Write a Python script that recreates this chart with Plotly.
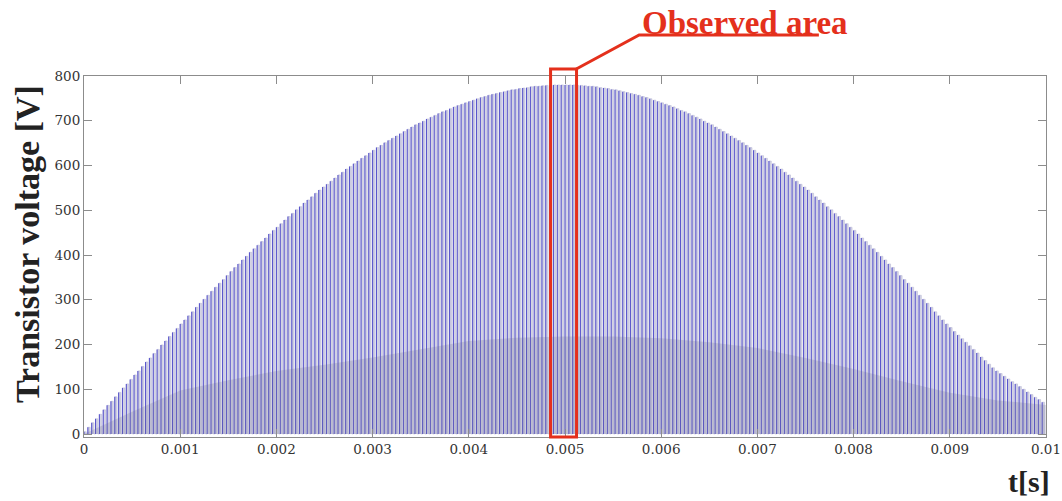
import plotly.graph_objects as go

# ---- data ----
T_START = 0.0
T_END = 0.01
# peak voltage of each switching pulse (V), left to right
pulse_peaks = [
    5, 15, 25, 34, 44, 54, 64, 73, 83, 93,
    103, 112, 122, 132, 141, 151, 161, 170, 180, 189,
    199, 208, 218, 227, 236, 246, 255, 264, 273, 283,
    292, 301, 310, 319, 328, 337, 345, 354, 363, 372,
    380, 389, 397, 406, 414, 422, 430, 438, 447, 455,
    462, 470, 478, 486, 493, 501, 508, 516, 523, 530,
    538, 545, 552, 558, 565, 572, 579, 585, 592, 598,
    604, 610, 616, 622, 628, 634, 640, 645, 651, 656,
    661, 666, 671, 676, 681, 686, 691, 695, 699, 704,
    708, 712, 716, 720, 723, 727, 731, 734, 737, 740,
    743, 746, 749, 752, 754, 757, 759, 761, 763, 765,
    767, 769, 770, 772, 773, 774, 776, 777, 777, 778,
    779, 779, 780, 780, 780,
    780, 780, 780, 779, 779,
    778, 777, 777, 776, 774, 773, 772, 770, 769, 767,
    765, 763, 761, 759, 757, 754, 752, 749, 746, 743,
    740, 737, 734, 731, 727, 723, 720, 716, 712, 708,
    704, 699, 695, 691, 686, 681, 676, 671, 666, 661,
    656, 651, 645, 640, 634, 628, 622, 616, 610, 604,
    598, 592, 585, 579, 572, 565, 558, 552, 545, 538,
    530, 523, 516, 508, 501, 493, 486, 478, 470, 462,
    455, 447, 438, 430, 422, 414, 406, 397, 389, 380,
    372, 363, 354, 345, 337, 328, 319, 310, 301, 292,
    283, 273, 264, 255, 246,
    238, 229, 221, 213, 205, 197, 189, 181, 172, 164, 156, 148, 141,
    135, 129, 123, 117, 112, 106, 100, 94, 88, 82, 77, 71,
]
PULSE_DUTY = 0.6

# lower (ringing) band level read every 0.5 ms
band_t = [0.0, 0.0005, 0.001, 0.0015, 0.002, 0.0025, 0.003, 0.0035, 0.004, 0.0045,
          0.005, 0.0055, 0.006, 0.0065, 0.007, 0.0075, 0.008, 0.0085, 0.009, 0.0095, 0.01]
band_v = [0, 50, 97, 120, 141, 155, 171, 190, 208, 215,
          218, 218, 214, 205, 192, 170, 145, 118, 92, 75, 65]

x_tick_vals = [0, 0.001, 0.002, 0.003, 0.004, 0.005, 0.006, 0.007, 0.008, 0.009, 0.01]
x_tick_text = ["0", "0.001", "0.002", "0.003", "0.004", "0.005", "0.006", "0.007", "0.008", "0.009", "0.01"]
y_tick_vals = [0, 100, 200, 300, 400, 500, 600, 700, 800]

observed_window = [0.00485, 0.00512]

# ---- build pulse polyline ----
n = len(pulse_peaks)
period = (T_END - T_START) / n
px, py = [], []
rise_x, rise_y = [], []
for k, pk in enumerate(pulse_peaks):
    t0 = T_START + k * period
    t1 = t0 + PULSE_DUTY * period
    px += [t0, t0, t1, t1]
    py += [0, pk, pk, 0]
    rise_x += [t0, t0, None]
    rise_y += [0, pk, None]

fig = go.Figure()
fig.add_trace(go.Scatter(
    x=px, y=py, mode="lines", fill="tozeroy",
    fillcolor="rgb(212,212,228)", line=dict(color="rgb(188,188,214)", width=0.6),
    hoverinfo="skip", showlegend=False))
fig.add_trace(go.Scatter(
    x=rise_x, y=rise_y, mode="lines",
    line=dict(color="rgb(90,86,204)", width=1.1),
    hoverinfo="skip", showlegend=False))
fig.add_trace(go.Scatter(
    x=band_t, y=band_v, mode="lines", fill="tozeroy",
    fillcolor="rgba(100,100,135,0.2)", line=dict(width=0),
    hoverinfo="skip", showlegend=False))

serif = "Liberation Serif, Times New Roman, serif"
tickserif = "DejaVu Serif, serif"
red = "rgb(228,48,28)"

axis_common = dict(
    showline=True, linecolor="#8c8c8c", linewidth=1, mirror="allticks",
    ticks="inside", ticklen=8, tickcolor="#8c8c8c", tickwidth=1,
    showgrid=False, zeroline=False, automargin=False,
    ticklabeloverflow="allow",
    tickfont=dict(family=tickserif, size=13.5, color="#333333"),
)

fig.update_layout(
    width=1062, height=501,
    margin=dict(l=84, r=16, t=76, b=64, autoexpand=False),
    paper_bgcolor="white", plot_bgcolor="white",
    xaxis=dict(range=[T_START, T_END], tickvals=x_tick_vals, ticktext=x_tick_text, **axis_common),
    yaxis=dict(range=[-6.7, 800], tickvals=y_tick_vals, **axis_common),
    shapes=[
        dict(type="rect", xref="x", yref="paper",
             x0=observed_window[0], x1=observed_window[1], y0=0, y1=1.0194,
             line=dict(color=red, width=3), fillcolor="rgba(0,0,0,0)", layer="above"),
        dict(type="path", xref="paper", yref="paper",
             path="M 0.5117,1.0194 L 0.5771,1.1136 L 0.7639,1.1136",
             line=dict(color=red, width=3)),
    ],
    annotations=[
        dict(text="<b>Transistor voltage [V]</b>", textangle=-90,
             xref="paper", yref="paper", x=-0.058, y=0.535,
             xanchor="center", yanchor="middle", showarrow=False,
             font=dict(family=serif, size=34, color="#222222")),
        dict(text="<b>t[s]</b>", xref="paper", yref="paper", x=1.006, y=-0.122,
             xanchor="right", yanchor="middle", showarrow=False,
             font=dict(family=serif, size=30, color="#222222")),
        dict(text="<b>Observed area</b>", xref="paper", yref="paper", x=0.578, y=1.148,
             xanchor="left", yanchor="middle", showarrow=False,
             font=dict(family=serif, size=33, color=red)),
    ],
)

fig.write_html("out.html")
